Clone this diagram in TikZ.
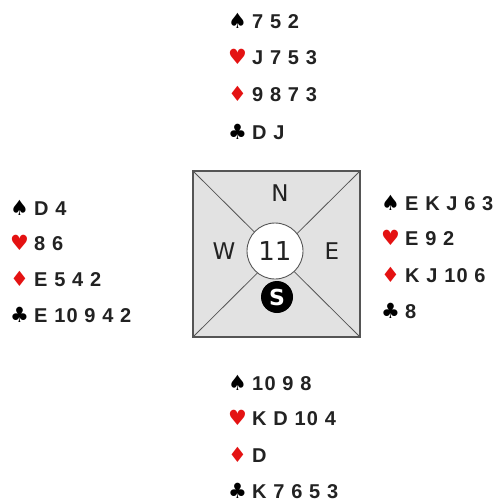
\documentclass[tikz,border=0pt]{standalone}
\usepackage{fontspec}
\setmainfont{Liberation Sans}
\newfontfamily\handfont{Liberation Sans}[LetterSpace=6]
\newfontfamily\suitfont{DejaVu Sans}
\newfontfamily\dirfont{DejaVu Sans}
\usetikzlibrary{positioning}

\definecolor{suitred}{RGB}{228,18,18}
\definecolor{inkgray}{RGB}{34,34,34}
\definecolor{tablefill}{RGB}{226,226,226}
\definecolor{tableline}{RGB}{85,85,85}

% suit symbols in a box of fixed width
\newcommand{\suitbox}[2]{\makebox[24pt][l]{\fontsize{21}{21}\suitfont\textcolor{#1}{#2}}}
\newcommand{\spd}{\suitbox{black}{♠}}
\newcommand{\hrt}{\suitbox{suitred}{♥}}
\newcommand{\dmd}{\suitbox{suitred}{♦}}
\newcommand{\clb}{\suitbox{black}{♣}}

\begin{document}
\begin{tikzpicture}[x=1pt,y=-1pt,every node/.style={inner sep=0pt},
  hand/.style={anchor=base west,font=\fontsize{20}{22}\handfont\bfseries,text=inkgray},
  table/.style={draw=tableline,line width=1.3pt,fill=tablefill,minimum width=167pt,minimum height=166pt},
  dir/.style={font=\fontsize{23}{23}\dirfont,text=inkgray},
  board/.style={circle,draw=tableline,line width=0.9pt,fill=white,minimum size=56pt,font=\fontsize{26}{26}\dirfont,text=inkgray},
  dealer/.style={circle,fill=black,minimum size=32pt,text=white,font=\fontsize{22}{22}\dirfont\bfseries}]
\useasboundingbox (0,0) rectangle (499,503);

% table
\node[table] (tbl) at (276.5,254) {};
\draw[tableline,line width=0.8pt] (tbl.north west) -- (tbl.south east);
\draw[tableline,line width=0.8pt] (tbl.north east) -- (tbl.south west);
\node[board] (bd) at (275,251) {11};
\node[dir] (nn) at (280,193) {N};
\node[dir] (ww) at (224,251) {W};
\node[dir] (ee) at (332,251) {E};
\node[dealer] (ss) at (277,297) {S};

% north
\node[hand] (n1) at (228,29) {\spd 7 5 2};
\node[hand] (n2) at (228,64) {\hrt J 7 5 3};
\node[hand] (n3) at (228,101) {\dmd 9 8 7 3};
\node[hand] (n4) at (228,139) {\clb D J};

% west
\node[hand] (w1) at (10,215) {\spd D 4};
\node[hand] (w2) at (10,250) {\hrt 8 6};
\node[hand] (w3) at (10,286) {\dmd E 5 4 2};
\node[hand] (w4) at (10,322) {\clb E 10 9 4 2};

% east
\node[hand] (e1) at (381,210) {\spd E K J 6 3};
\node[hand] (e2) at (381,245) {\hrt E 9 2};
\node[hand] (e3) at (381,282) {\dmd K J 10 6};
\node[hand] (e4) at (381,318) {\clb 8};

% south
\node[hand] (s1) at (228,390) {\spd 10 9 8};
\node[hand] (s2) at (228,425) {\hrt K D 10 4};
\node[hand] (s3) at (228,462) {\dmd D};
\node[hand] (s4) at (228,498) {\clb K 7 6 5 3};
\end{tikzpicture}
\end{document}
